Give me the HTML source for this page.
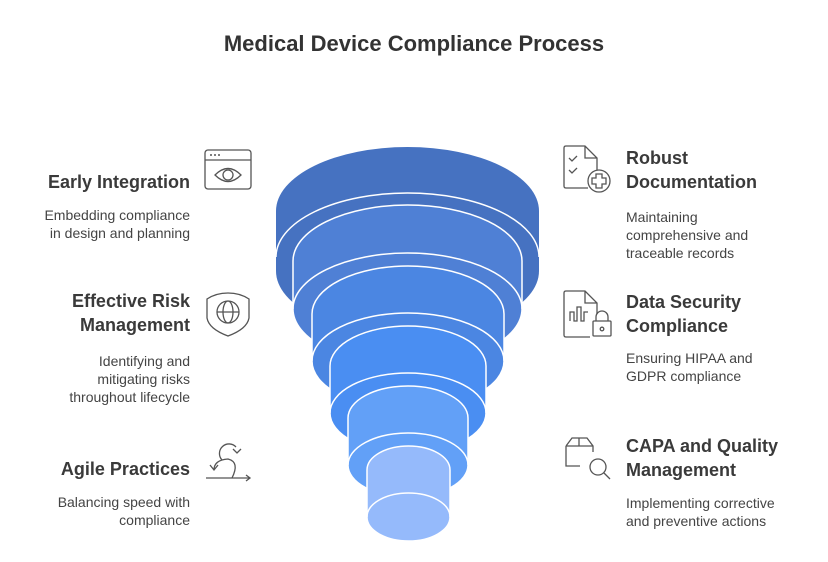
<!DOCTYPE html>
<html><head><meta charset="utf-8"><style>
body{margin:0;width:828px;height:562px;background:#fff;font-family:"Liberation Sans",Arial,sans-serif;position:relative;overflow:hidden}
.t{position:absolute;font-weight:bold;font-size:18px;color:#3a3a3a;line-height:24px}
.d{position:absolute;font-size:14px;color:#444;line-height:18px}
.r{text-align:right}
</style></head><body>
<div style="position:absolute;left:0;width:828px;top:31px;text-align:center;font-weight:bold;font-size:22px;color:#333">Medical Device Compliance Process</div>
<svg width="828" height="562" style="position:absolute;left:0;top:0" fill="none">
<path d="M276,211 A131.5,64 0 0 1 539,211 L539,271 A131.5,64 0 0 1 276,271 Z" fill="#4672c1"/>
<path d="M276,257 A131.5,64 0 0 1 539,257" stroke="#fff" stroke-width="1.5"/>
<path d="M293,261 A114.5,56 0 0 1 522,261 L522,309 A114.5,56 0 0 1 293,309 Z" fill="#4f80d5" stroke="#fff" stroke-width="1.5"/>
<path d="M293,309 A114.5,56 0 0 1 522,309" stroke="#fff" stroke-width="1.5"/>
<path d="M312,314 A96,48 0 0 1 504,314 L504,361 A96,48 0 0 1 312,361 Z" fill="#4b86e2" stroke="#fff" stroke-width="1.5"/>
<path d="M312,361 A96,48 0 0 1 504,361" stroke="#fff" stroke-width="1.5"/>
<path d="M330,366 A78,40 0 0 1 486,366 L486,413 A78,40 0 0 1 330,413 Z" fill="#4a8ef2" stroke="#fff" stroke-width="1.5"/>
<path d="M330,413 A78,40 0 0 1 486,413" stroke="#fff" stroke-width="1.5"/>
<path d="M348,418 A60,32 0 0 1 468,418 L468,465 A60,32 0 0 1 348,465 Z" fill="#62a0f7" stroke="#fff" stroke-width="1.5"/>
<path d="M348,465 A60,32 0 0 1 468,465" stroke="#fff" stroke-width="1.5"/>
<path d="M367,470 A41.5,24 0 0 1 450,470 L450,517 A41.5,24 0 0 1 367,517 Z" fill="#95bafb" stroke="#fff" stroke-width="1.5"/>
<path d="M367,517 A41.5,24 0 0 1 450,517" stroke="#fff" stroke-width="1.5"/>
<g stroke="#555" stroke-width="1.3">
<rect x="205" y="150" width="46" height="39" rx="3"/>
<line x1="205" y1="160" x2="251" y2="160"/>
<path d="M215,175 Q228,162 241,175 Q228,188 215,175Z"/><circle cx="228" cy="175" r="5"/>
<path d="M228,293 Q240,293 249,299 L249,318 Q247,329 228,336 Q209,329 207,318 L207,299 Q216,293 228,293Z"/>
<circle cx="228" cy="312" r="11"/><ellipse cx="228" cy="312" rx="5" ry="11"/><line x1="217" y1="312" x2="239" y2="312"/>
<path d="M222,460 A7,7 0 1 1 236,447 M233,449 l4,4 4,-4"/>
<path d="M232,478 Q240,462 228,459 Q214,460 214,470 M210,465 l4,5 4,-5"/>
<path d="M206,478 L250,478 M246,475 l4,3 -4,3"/>
</g>
<g fill="#555"><circle cx="211" cy="155" r="1"/><circle cx="215" cy="155" r="1"/><circle cx="219" cy="155" r="1"/></g>
<g stroke="#555" stroke-width="1.3">
<path d="M588,188 L566,188 Q564,188 564,186 L564,148 Q564,146 566,146 L585,146 L597,158 L597,170 M585,146 L585,158 L597,158"/>
<path d="M569,158 l3,3 5,-5 M569,170 l3,3 5,-5"/>
<circle cx="599" cy="181" r="11"/>
<path d="M596,174 h6 v4 h4 v6 h-4 v4 h-6 v-4 h-4 v-6 h4z"/>
<path d="M590,337 L566,337 Q564,337 564,335 L564,293 Q564,291 566,291 L585,291 L597,303 L597,314 M585,291 L585,303 L597,303"/>
<path d="M570,321 v-9 h4 v9 h3 v-14 h4 v14 h3 v-9 h4"/>
<rect x="593" y="321" width="18" height="15" rx="1"/><path d="M596,321 v-4 a6,6 0 0 1 12,0 v4"/><circle cx="602" cy="329" r="1.8"/>
<path d="M566,446 L572,438 L587,438 L593,446 L593,452 M566,446 L593,446 M579,438 L579,446 M566,446 L566,466 L580,466"/>
<circle cx="598" cy="467" r="8"/><line x1="604" y1="473" x2="610" y2="479"/>
</g>
</svg>
<div class="t r" style="right:638px;top:170px">Early Integration</div>
<div class="d r" style="right:638px;top:206px">Embedding compliance<br>in design and planning</div>
<div class="t r" style="right:638px;top:289px">Effective Risk<br>Management</div>
<div class="d r" style="right:638px;top:352px">Identifying and<br>mitigating risks<br>throughout lifecycle</div>
<div class="t r" style="right:638px;top:457px">Agile Practices</div>
<div class="d r" style="right:638px;top:493px">Balancing speed with<br>compliance</div>
<div class="t" style="left:626px;top:146px">Robust<br>Documentation</div>
<div class="d" style="left:626px;top:208px">Maintaining<br>comprehensive and<br>traceable records</div>
<div class="t" style="left:626px;top:290px">Data Security<br>Compliance</div>
<div class="d" style="left:626px;top:349px">Ensuring HIPAA and<br>GDPR compliance</div>
<div class="t" style="left:626px;top:434px">CAPA and Quality<br>Management</div>
<div class="d" style="left:626px;top:494px">Implementing corrective<br>and preventive actions</div>
</body></html>
